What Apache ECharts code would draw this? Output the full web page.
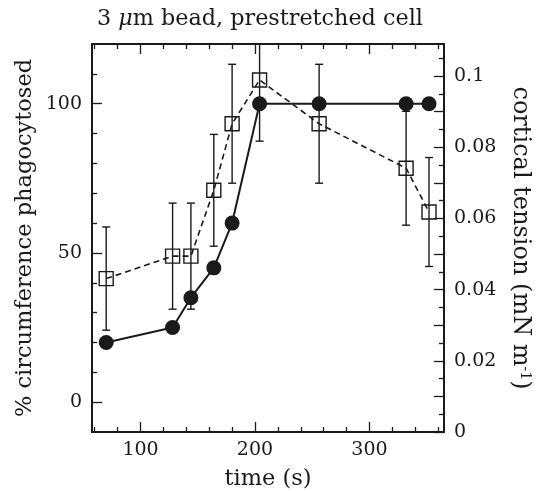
<!DOCTYPE html>
<html><head><meta charset="utf-8">
<script src="https://cdn.jsdelivr.net/npm/echarts@6/dist/echarts.min.js"></script>
<style>html,body{margin:0;padding:0;background:#fff}#c{width:537px;height:491px}</style>
</head><body><div id="c"></div>
<script>
// ---- data ----
const timeCircles = [70, 128, 144, 164, 180, 204, 256, 332, 352];
const pctPhagocytosed = [20, 25, 35, 45, 60, 100, 100, 100, 100];
const timeSquares = [70, 128, 144, 164, 180, 204, 256, 332, 352];
const corticalTension = [0.0431, 0.0494, 0.0494, 0.0679, 0.0866, 0.0989, 0.0866, 0.0741, 0.0618];
const tensionError = [0.0145, 0.0149, 0.0149, 0.0157, 0.0167, 0.0172, 0.0167, 0.016, 0.0153];
// ---- ticks ----
const xMajorTicks = [100, 200, 300];
const xMinorTicks = [60, 80, 120, 140, 160, 180, 220, 240, 260, 280, 320, 340, 360];
const leftMajorTicks = [0, 50, 100];
const leftMinorTicks = [10, 20, 30, 40, 60, 70, 80, 90, 110];
const rightLabelTicks = [0, 0.02, 0.04, 0.06, 0.08, 0.1];
const rightMajorTicks = [0, 0.01, 0.02, 0.03, 0.04, 0.05, 0.06, 0.07, 0.08, 0.09, 0.1];
const rightMinorTicks = [0.005, 0.015, 0.025, 0.035, 0.045, 0.055, 0.065, 0.075, 0.085, 0.095, 0.105];

const FONT = 'DejaVu Serif';
const INK = '#1a1a1a';
const X_MIN = 57.6, X_MAX = 365.1, L_MIN = -10, L_MAX = 120, R_MIN = 0, R_MAX = 0.109;

const chart = echarts.init(document.getElementById('c'), null, {renderer: 'canvas'});

const nameStyle = {fontFamily: FONT, fontSize: 22.5, color: INK};

function xAx(pos, ticks, len, labels, extra) {
  return Object.assign({
    type: 'value', position: pos, min: X_MIN, max: X_MAX,
    axisLine: {show: true, onZero: false, lineStyle: {color: INK, width: 2}},
    axisTick: {show: true, inside: true, length: len, customValues: ticks, lineStyle: {color: INK, width: 1.3}},
    axisLabel: labels ? {show: true, customValues: labels, margin: 9, color: INK, fontFamily: FONT, fontSize: 19} : {show: false},
    splitLine: {show: false}
  }, extra || {});
}
function yAx(pos, min, max, ticks, len, labels, extra) {
  return Object.assign({
    type: 'value', position: pos, min: min, max: max,
    axisLine: {show: true, onZero: false, lineStyle: {color: INK, width: 2}},
    axisTick: {show: true, inside: true, length: len, customValues: ticks, lineStyle: {color: INK, width: 1.3}},
    axisLabel: labels ? {show: true, customValues: labels, margin: 10, color: INK, fontFamily: FONT, fontSize: 19} : {show: false},
    splitLine: {show: false}
  }, extra || {});
}

const errData = timeSquares.map((t, i) => [t, corticalTension[i] - tensionError[i], corticalTension[i] + tensionError[i]]);

const option = {
  animation: false,
  backgroundColor: '#fff',
  title: {
    text: '{n|3 }{i|μ}{n|m bead, prestretched cell}',
    left: 92, top: 3,
    textStyle: {
      fontWeight: 'normal',
      rich: {
        n: {fontFamily: FONT, fontSize: 22.3, fontWeight: 'normal', color: INK},
        i: {fontFamily: FONT, fontSize: 22.3, fontWeight: 'normal', fontStyle: 'italic', color: INK}
      }
    }
  },
  grid: {left: 92, right: 93, top: 44, bottom: 59, containLabel: false, outerBoundsMode: 'none'},
  xAxis: [
    xAx('bottom', xMajorTicks, 10, xMajorTicks, {
      name: 'time (s)', nameLocation: 'middle', nameGap: 36, nameMoveOverlap: false,
      nameTextStyle: nameStyle
    }),
    xAx('bottom', xMinorTicks, 5, null),
    xAx('top', xMajorTicks, 10, null),
    xAx('top', xMinorTicks, 5, null)
  ],
  yAxis: [
    yAx('left', L_MIN, L_MAX, leftMajorTicks, 10, leftMajorTicks, {
      name: '% circumference phagocytosed', nameLocation: 'middle', nameGap: 55, nameRotate: 90, nameMoveOverlap: false,
      nameTextStyle: nameStyle
    }),
    yAx('left', L_MIN, L_MAX, leftMinorTicks, 5, null),
    yAx('right', R_MIN, R_MAX, rightMajorTicks, 10, rightLabelTicks, {
      name: 'cortical tension (mN m{sup|-1})', nameLocation: 'middle', nameGap: 64, nameRotate: -90, nameMoveOverlap: false,
      nameTextStyle: Object.assign({}, nameStyle, {
        fontSize: 24,
        rich: {sup: {fontFamily: FONT, fontSize: 14, color: INK, verticalAlign: 'top', padding: [0, 0, 9, 0]}}
      })
    }),
    yAx('right', R_MIN, R_MAX, rightMinorTicks, 5, null)
  ],
  series: [
    {
      type: 'custom', xAxisIndex: 0, yAxisIndex: 2, z: 2,
      data: errData,
      renderItem: function (params, api) {
        const x = api.value(0), lo = api.value(1), hi = api.value(2);
        const clipped = hi > R_MAX;
        const a = api.coord([x, lo]), b = api.coord([x, Math.min(hi, R_MAX)]);
        const hw = 4, st = {stroke: INK, lineWidth: 1.4};
        const kids = [
          {type: 'line', shape: {x1: a[0], y1: a[1], x2: b[0], y2: b[1]}, style: st},
          {type: 'line', shape: {x1: a[0] - hw, y1: a[1], x2: a[0] + hw, y2: a[1]}, style: st}
        ];
        if (!clipped) kids.push({type: 'line', shape: {x1: b[0] - hw, y1: b[1], x2: b[0] + hw, y2: b[1]}, style: st});
        return {type: 'group', children: kids};
      }
    },
    {
      type: 'line', xAxisIndex: 0, yAxisIndex: 2, z: 3,
      data: timeSquares.map((t, i) => [t, corticalTension[i]]),
      symbol: 'rect', symbolSize: 14, showAllSymbol: true,
      lineStyle: {color: INK, width: 1.6, type: [6, 4]},
      itemStyle: {color: 'rgba(255,255,255,0)', borderColor: INK, borderWidth: 1.4}
    },
    {
      type: 'line', xAxisIndex: 0, yAxisIndex: 0, z: 4,
      data: timeCircles.map((t, i) => [t, pctPhagocytosed[i]]),
      symbol: 'circle', symbolSize: 15, showAllSymbol: true,
      lineStyle: {color: INK, width: 2},
      itemStyle: {color: INK, borderWidth: 0}
    }
  ]
};
chart.setOption(option);
</script>
</body></html>
